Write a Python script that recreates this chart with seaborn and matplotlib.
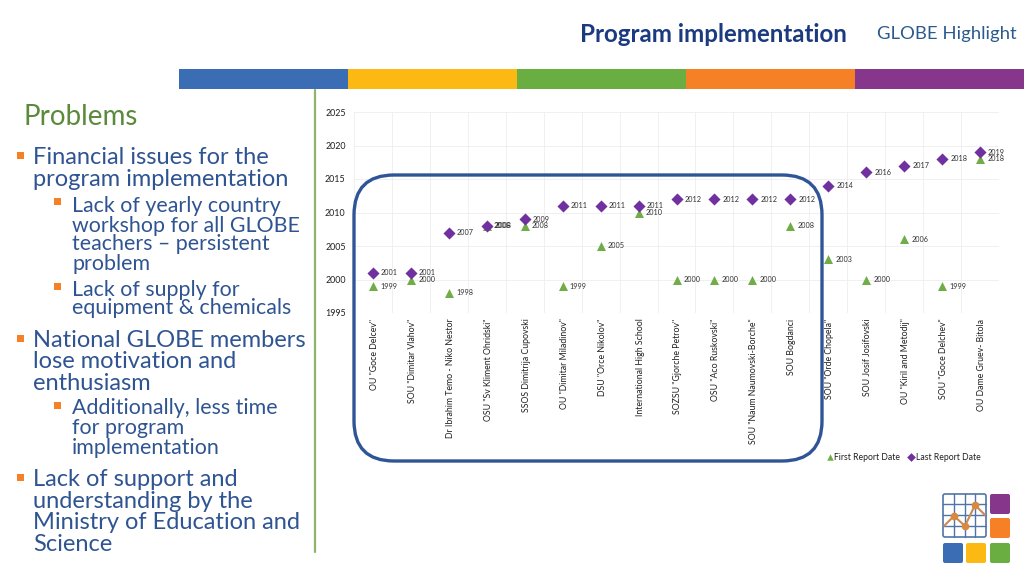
import matplotlib
matplotlib.use("Agg")
import matplotlib.pyplot as plt
from matplotlib.patches import FancyBboxPatch, Rectangle
from matplotlib.transforms import ScaledTranslation
import seaborn as sns
import pandas as pd

schools = ['OU "Goce Delcev"', 'SOU "Dimitar Vlahov"', 'Dr Ibrahim Temo - Niko Nestor',
           'OSU "Sv Kliment Ohridski"', 'SSOS Dimitrija Cupovski', 'OU "Dimitar Miladinov"',
           'DSU "Orce Nikolov"', 'International High School', 'SOZSU "Gjorche Petrov"',
           'OSU "Aco Ruskovski"', 'SOU "Naum Naumovski-Borche"', 'SOU Bogdanci',
           'SOU "Orde Chopela"', 'SOU Josif Josifovski', 'OU "Kiril and Metodij"',
           'SOU "Goce Delchev"', 'OU Dame Gruev- Bitola']
first_report = [1999, 2000, 1998, 2008, 2008, 1999, 2005, 2010, 2000, 2000, 2000, 2008, 2003, 2000, 2006, 1999, 2018]
last_report = [2001, 2001, 2007, 2008, 2009, 2011, 2011, 2011, 2012, 2012, 2012, 2012, 2014, 2016, 2017, 2018, 2019]
year_ticks = [1995, 2000, 2005, 2010, 2015, 2020, 2025]
strip_colors = ['#3b6db5', '#fdb913', '#6aad41', '#f58025', '#86368b']
heading_lines = [('Financial issues for the', 156, 1), ('program implementation', 178, 1),
                 ('Lack of yearly country', 204, 2), ('workshop for all GLOBE', 224, 2),
                 ('teachers \u2013 persistent', 243, 2), ('problem', 263, 2),
                 ('Lack of supply for', 288, 2), ('equipment & chemicals', 307, 2),
                 ('National GLOBE members', 339, 1), ('lose motivation and', 360, 1),
                 ('enthusiasm', 382, 1), ('Additionally, less time', 407, 2),
                 ('for program', 427, 2), ('implementation', 447, 2),
                 ('Lack of support and', 478, 1), ('understanding by the', 500, 1),
                 ('Ministry of Education and', 521, 1), ('Science', 543, 1)]
bullets = [(155, 1), (201, 2), (286, 2), (338, 1), (405, 2), (477, 1)]

sns.set_theme(style="white", rc={"font.family": ["Lato", "DejaVu Sans"]})
plt.rcParams['font.family'] = ['Lato', 'DejaVu Sans']
W, H = 1024, 576
fig = plt.figure(figsize=(W / 100, H / 100), dpi=100, facecolor='white')

ax = fig.add_axes([354 / W, 1 - 313 / H, (999 - 354) / W, (313 - 112) / H])
df = pd.DataFrame({'School': schools, 'First': first_report, 'Last': last_report})
GREEN, PURPLE = '#70ad47', '#7030a0'
sns.scatterplot(data=df, x='School', y='First', marker='^', s=42, color=GREEN,
                linewidth=0, ax=ax, label='First Report Date', zorder=3, legend=False)
sns.scatterplot(data=df, x='School', y='Last', marker='D', s=38, color=PURPLE,
                linewidth=0, ax=ax, label='Last Report Date', zorder=4, legend=False)
for i, (a, b) in enumerate(zip(first_report, last_report)):
    ax.annotate(str(a), (i, a), xytext=(5.2, 0), textcoords='offset points', va='center',
                fontsize=5.2, color='#303030', zorder=5)
    ax.annotate(str(b), (i, b), xytext=(5.8, 0), textcoords='offset points', va='center',
                fontsize=5.2, color='#303030', zorder=5)
ax.set_xlim(-0.5, len(schools) - 0.5)
ax.set_ylim(1995, 2025)
ax.set_yticks(year_ticks)
ax.set_xticks(range(len(schools)))
ax.set_xticklabels(schools, rotation=90, ha='center', va='top', fontsize=6.3, color='#202020')
ax.tick_params(axis='y', labelsize=6.4, labelcolor='#202020', length=0, pad=6)
ax.tick_params(axis='x', length=0, pad=4)
ax.set_xlabel('')
ax.set_ylabel('')
ax.set_xticks([x - 0.5 for x in range(len(schools) + 1)], minor=True)
ax.tick_params(axis='x', which='minor', length=0)
ax.grid(True, axis='y', which='major', color='#eeeeee', lw=0.6)
ax.grid(True, axis='x', which='minor', color='#eeeeee', lw=0.6)
ax.grid(False, axis='x', which='major')
ax.set_axisbelow(True)
sns.despine(ax=ax, left=True, bottom=True)
shift = ScaledTranslation(1.5 / 100, 0, fig.dpi_scale_trans)
for lab in ax.get_xticklabels():
    lab.set_transform(lab.get_transform() + shift)
handles, labels = ax.get_legend_handles_labels()
leg = fig.legend(handles, labels, ncol=2, frameon=False, fontsize=6.2, loc='center',
                 bbox_to_anchor=(903.5 / W, 1 - 457 / H), handletextpad=0.1, columnspacing=0.85,
                 handlelength=0.8, markerscale=0.72, labelcolor='#202020')

ov = fig.add_axes([0, 0, 1, 1], facecolor='none')
ov.set_xlim(0, W)
ov.set_ylim(H, 0)
ov.axis('off')

# header
ov.text(580, 34, 'Program implementation', fontsize=17.4, fontweight='bold', color='#1b3a80', va='center')
ov.text(877, 34.5, 'GLOBE Highlight', fontsize=13.3, color='#2b5a8c', va='center')
seg = (1024 - 179) / 5
for k, c in enumerate(strip_colors):
    ov.add_patch(Rectangle((179 + k * seg, 69), seg, 20, color=c, lw=0))

# left text
ov.text(24, 117, 'Problems', fontsize=20, color='#5b8a3c', va='center')
for line, y, lvl in heading_lines:
    ov.text(33 if lvl == 1 else 72, y + 1.5, line, va='center', color='#2f5492',
            fontsize=17.0 if lvl == 1 else 15.4)
for y, lvl in bullets:
    x0 = 17 if lvl == 1 else 54
    ov.add_patch(Rectangle((x0, y - 3.5), 7, 7, color='#f58025', lw=0))
ov.plot([315, 315], [90, 552], color='#8fb56a', lw=1.6)

# rounded callout
ov.add_patch(FancyBboxPatch((354 + 40, 175 + 40), 468 - 80, 286 - 80,
                            boxstyle='round,pad=40,rounding_size=40',
                            fc='none', ec='#2f5597', lw=2.4, zorder=6))

# logo
for x0, y0, c in [(990, 494, '#86368b'), (990, 518, '#f58025'), (943, 543, '#3b6db5'),
                  (966, 543, '#fdb913'), (990, 543, '#6aad41')]:
    ov.add_patch(FancyBboxPatch((x0 + 2, y0 + 2), 16, 16, boxstyle='round,pad=2,rounding_size=2',
                                fc=c, ec='none'))
ov.add_patch(FancyBboxPatch((945, 496), 39, 39, boxstyle='round,pad=2,rounding_size=2',
                            fc='white', ec='#4f74a8', lw=1.2))
for g in (954, 965, 975):
    ov.plot([g, g], [494, 537], color='#4f74a8', lw=1)
for g in (504, 515, 526):
    ov.plot([943, 986], [g, g], color='#4f74a8', lw=1)
ov.plot([944, 954, 965, 975, 985], [526, 516, 526, 505, 515], color='#c98a55', lw=1.5)
ov.plot([954, 965, 975], [516, 526, 505], 'o', color='#d9883f', ms=4.5)

fig.savefig('out.png', dpi=100)
